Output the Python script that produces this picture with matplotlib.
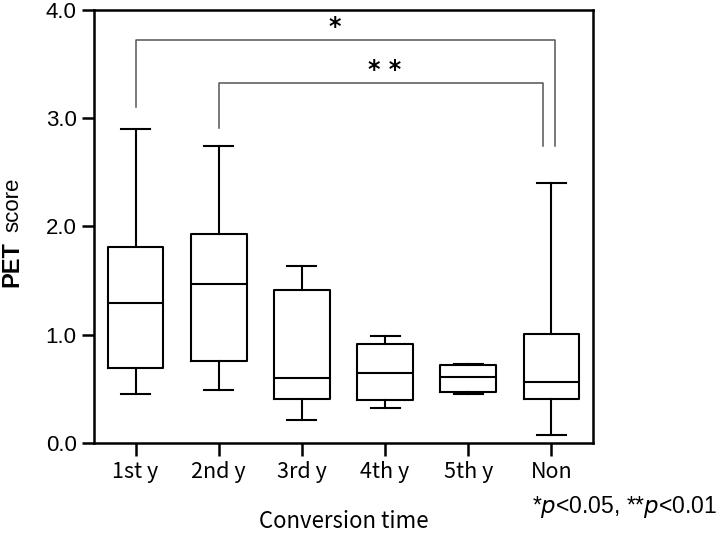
import matplotlib
matplotlib.use("Agg")
import matplotlib.pyplot as plt

groups = ["1st y", "2nd y", "3rd y", "4th y", "5th y", "Non"]
whis_lo = [0.45, 0.49, 0.21, 0.32, 0.45, 0.07]
q1 = [0.69, 0.76, 0.41, 0.40, 0.47, 0.41]
med = [1.29, 1.47, 0.60, 0.65, 0.61, 0.56]
q3 = [1.81, 1.93, 1.41, 0.91, 0.72, 1.01]
whis_hi = [2.90, 2.74, 1.63, 0.99, 0.73, 2.40]

# significance brackets: (left x, right x, bar height, left leg end, right leg end, label, label x)
brackets = [
    (1, 6.04, 3.72, 3.10, 2.74, "*", 3.40),
    (2, 5.90, 3.32, 2.91, 2.74, "* *", 4.00),
]

jp = ["Noto Sans CJK JP", "DejaVu Sans"]

fig = plt.figure(figsize=(7.18, 5.34), dpi=100)
ax = fig.add_axes([0.1309, 0.1704, 0.826 - 0.1309, 0.982 - 0.1704])

stats = []
for i in range(len(groups)):
    stats.append({"whislo": whis_lo[i], "q1": q1[i], "med": med[i],
                  "q3": q3[i], "whishi": whis_hi[i], "fliers": []})

ax.bxp(stats, positions=range(1, len(groups) + 1), widths=0.67,
       showfliers=False, capwidths=0.35,
       boxprops=dict(color="black", linewidth=1.5),
       medianprops=dict(color="black", linewidth=1.5),
       whiskerprops=dict(color="black", linewidth=1.5),
       capprops=dict(color="black", linewidth=1.5))

for x1, x2, h, l1, l2, lab, lx in brackets:
    ax.plot([x1, x1, x2, x2], [l1, h, h, l2], color="#555555", lw=1.1)
    ax.text(lx, h + 0.12, lab, ha="center", va="center",
            fontsize=17, fontweight="bold")

ax.set_xlim(0.5, 6.5)
ax.set_ylim(0, 4.0)
ax.set_yticks([0, 1, 2, 3, 4])
ax.set_yticklabels(["0.0", "1.0", "2.0", "3.0", "4.0"],
                   fontsize=16, family="Liberation Sans")
ax.set_xticks(range(1, len(groups) + 1))
ax.set_xticklabels(groups, fontsize=15.5, family=jp)
ax.tick_params(axis="both", direction="out", length=9, width=1.8, color="black")
ax.tick_params(axis="x", pad=4)
for s in ax.spines.values():
    s.set_linewidth(1.8)

fig.text(0.5 * (0.1309 + 0.826), 0.0225, "Conversion time", ha="center",
         va="center", fontsize=16, family=jp)
fig.text(0.032, 0.4625, "PET", rotation=90, ha="right", va="bottom",
         fontsize=17, fontweight="bold", family="Liberation Sans")
fig.text(0.032, 0.565, "score", rotation=90, ha="right", va="bottom",
         fontsize=16, family="Liberation Sans")
fig.text(0.999, 0.0506, r"*$\it{p}$<0.05, **$\it{p}$<0.01", ha="right",
         va="center", fontsize=16.5, family="Liberation Sans")

fig.savefig("out.png", dpi=100)
